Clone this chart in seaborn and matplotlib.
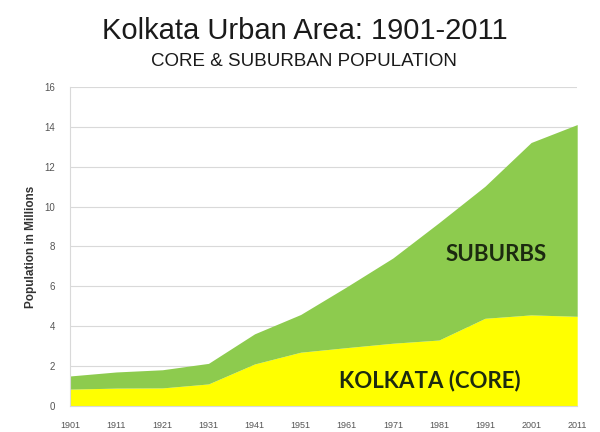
import matplotlib
matplotlib.use("Agg")
import matplotlib.pyplot as plt
import seaborn as sns

# Kolkata population, millions
years = [1901, 1911, 1921, 1931, 1941, 1951, 1961, 1971, 1981, 1991, 2001, 2011]
core = [0.85, 0.90, 0.91, 1.11, 2.11, 2.70, 2.93, 3.15, 3.31, 4.40, 4.57, 4.50]
urban_total = [1.51, 1.71, 1.82, 2.14, 3.62, 4.59, 5.98, 7.42, 9.19, 11.02, 13.21, 14.11]
y_ticks = [0, 2, 4, 6, 8, 10, 12, 14, 16]

sns.set_style("white")
plt.rcParams['font.family'] = ['Liberation Sans', 'DejaVu Sans']

fig = plt.figure(figsize=(6, 4.32), dpi=100)
ax = fig.add_axes([0.117, 0.060, 0.845, 0.739])

# stacked areas: core at the bottom, suburbs on top
ax.fill_between(years, 0, core, color="#FFFF00", linewidth=0, zorder=2)
ax.fill_between(years, core, urban_total, color="#8DCB4E", linewidth=0, zorder=2)

ax.set_xlim(years[0], years[-1])
ax.set_ylim(0, 16)
ax.set_xticks(years)
ax.set_yticks(y_ticks)
ax.grid(axis="y", color="#d9d9d9", linewidth=0.8, zorder=0)
ax.tick_params(axis="x", labelsize=6.5, colors="#555555", length=0, pad=11)
ax.tick_params(axis="y", labelsize=7, colors="#555555", length=4, width=0.8, pad=7)
for t in ax.yaxis.get_ticklines():
    t.set_color("#d9d9d9")
for s in ["top", "right"]:
    ax.spines[s].set_visible(False)
ax.spines["left"].set_color("#d9d9d9")
ax.spines["bottom"].set_color("#d9d9d9")

ax.set_ylabel("Population in Millions", fontsize=8.5, fontweight="bold", color="#333333", labelpad=5)

label_font = ['Lato', 'Liberation Sans']
ax.text(1993.5, 7.6, "SUBURBS", fontsize=16, fontweight="bold", color="#1c2a10",
        family=label_font, ha="center", va="center", zorder=3)
ax.text(1979, 1.3, "KOLKATA (CORE)", fontsize=16, fontweight="bold", color="#1c2a10",
        family=label_font, ha="center", va="center", zorder=3)

fig.text(0.508, 0.910, "Kolkata Urban Area: 1901-2011", fontsize=21, color="#1a1a1a",
         ha="center", va="baseline")
fig.text(0.507, 0.847, "CORE & SUBURBAN POPULATION", fontsize=13.5, color="#1a1a1a",
         ha="center", va="baseline")

fig.savefig("out.png", dpi=100)
